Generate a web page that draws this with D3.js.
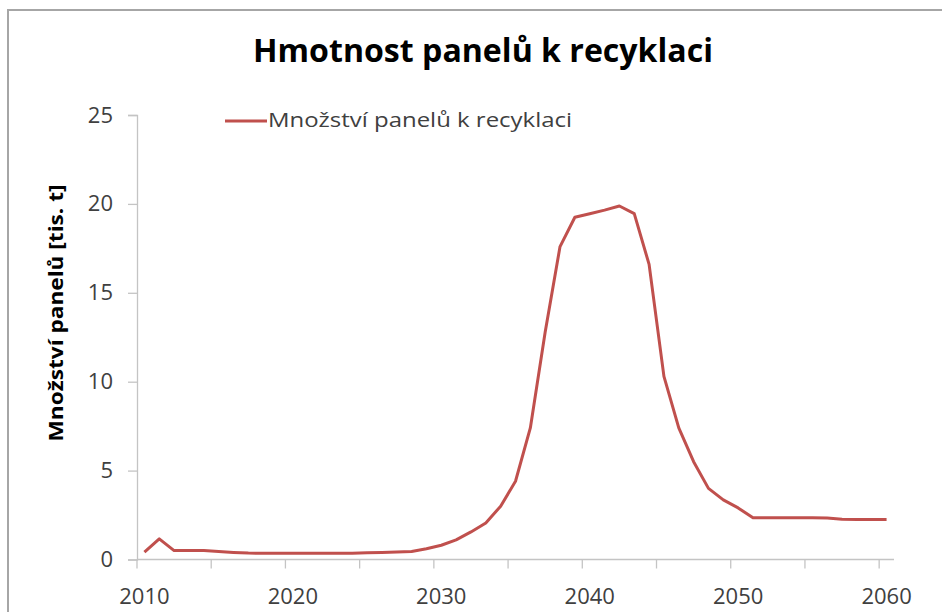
<!DOCTYPE html>
<html>
<head>
<meta charset="utf-8">
<script src="https://cdn.jsdelivr.net/npm/d3@7/dist/d3.min.js"></script>
<style>
  html, body { margin: 0; padding: 0; background: #fff; }
  svg { display: block; }
  text { font-family: "Open Sans", "Noto Sans", sans-serif; }
</style>
</head>
<body>
<svg id="chart" width="942" height="612"></svg>
<script>
// ---- data ----
const years = d3.range(2010, 2061);
const values = [
  0.41, 1.16, 0.50, 0.50, 0.50, 0.45, 0.40, 0.36, 0.35, 0.35,
  0.35, 0.35, 0.35, 0.35, 0.35, 0.38, 0.40, 0.42, 0.45, 0.60,
  0.80, 1.10, 1.55, 2.05, 3.00, 4.40, 7.40, 12.80, 17.60, 19.25,
  19.45, 19.65, 19.88, 19.45, 16.60, 10.30, 7.40, 5.50, 4.00, 3.35,
  2.90, 2.35, 2.35, 2.35, 2.35, 2.35, 2.33, 2.27, 2.25, 2.25,
  2.25
];
const yTicks = [0, 5, 10, 15, 20, 25];
const xLabelYears = [2010, 2020, 2030, 2040, 2050, 2060];
const titleText = "Hmotnost panelů k recyklaci";
const seriesName = "Množství panelů k recyklaci";
const yAxisTitle = "Množství panelů [tis. t]";

// ---- layout ----
const svg = d3.select("#chart");
const plotLeft = 137, plotRight = 894, plotTop = 115, plotBottom = 559.5;
const lineColor = "#c0504d";
const axisColor = "#c4c4c4";
const labelColor = "#404040";

// outer chart border
svg.append("path")
  .attr("d", "M8,612 L8,10 L942,10")
  .attr("fill", "none")
  .attr("stroke", "#a6a6a6")
  .attr("stroke-width", 2);

const x = d3.scaleBand().domain(years).range([plotLeft, plotRight]).padding(0);
const y = d3.scaleLinear().domain([0, 25]).range([plotBottom, plotTop]);

// y axis
const yAxis = svg.append("g")
  .attr("transform", `translate(${plotLeft},0)`)
  .call(d3.axisLeft(y).tickValues(yTicks).tickSize(9).tickPadding(15));
yAxis.select(".domain").attr("stroke", axisColor).attr("stroke-width", 1.3);
yAxis.selectAll(".tick line").attr("stroke", axisColor).attr("stroke-width", 1.3);
yAxis.selectAll(".tick text")
  .attr("fill", labelColor)
  .style("font-size", "22px")
  .style("font-family", "'Open Sans', sans-serif");

// x axis: line + ticks at band boundaries every 5 years
const xg = svg.append("g");
xg.append("line")
  .attr("x1", plotLeft).attr("x2", plotRight)
  .attr("y1", plotBottom).attr("y2", plotBottom)
  .attr("stroke", axisColor).attr("stroke-width", 1.3);
const boundaryYears = years.filter((d, i) => i % 5 === 0);
xg.selectAll("line.tk")
  .data(boundaryYears)
  .enter().append("line")
  .attr("class", "tk")
  .attr("x1", d => x(d)).attr("x2", d => x(d))
  .attr("y1", plotBottom).attr("y2", plotBottom + 9)
  .attr("stroke", axisColor).attr("stroke-width", 1.3);
xg.selectAll("text")
  .data(xLabelYears)
  .enter().append("text")
  .attr("x", d => x(d) + x.bandwidth() / 2)
  .attr("y", 604)
  .attr("text-anchor", "middle")
  .attr("fill", labelColor)
  .style("font-size", "22px")
  .text(d => d);

// line
const line = d3.line()
  .x((d, i) => x(years[i]) + x.bandwidth() / 2)
  .y(d => y(d));
svg.append("path")
  .datum(values)
  .attr("fill", "none")
  .attr("stroke", lineColor)
  .attr("stroke-width", 3)
  .attr("stroke-linejoin", "round")
  .attr("d", line);

// title
svg.append("text")
  .attr("x", 483).attr("y", 62)
  .attr("text-anchor", "middle")
  .attr("fill", "#000")
  .style("font-size", "33px")
  .style("font-weight", "bold")
  .attr("textLength", 460)
  .attr("lengthAdjust", "spacingAndGlyphs")
  .text(titleText);

// legend
svg.append("line")
  .attr("x1", 225).attr("x2", 267)
  .attr("y1", 121).attr("y2", 121)
  .attr("stroke", lineColor).attr("stroke-width", 3);
svg.append("text")
  .attr("x", 268).attr("y", 127)
  .attr("fill", labelColor)
  .style("font-size", "20px")
  .attr("textLength", 304)
  .attr("lengthAdjust", "spacingAndGlyphs")
  .text(seriesName);

// y axis title
svg.append("text")
  .attr("transform", "translate(63,313) rotate(-90)")
  .attr("text-anchor", "middle")
  .attr("fill", "#000")
  .style("font-size", "20px")
  .style("font-weight", "bold")
  .attr("textLength", 257)
  .attr("lengthAdjust", "spacingAndGlyphs")
  .text(yAxisTitle);
</script>
</body>
</html>
